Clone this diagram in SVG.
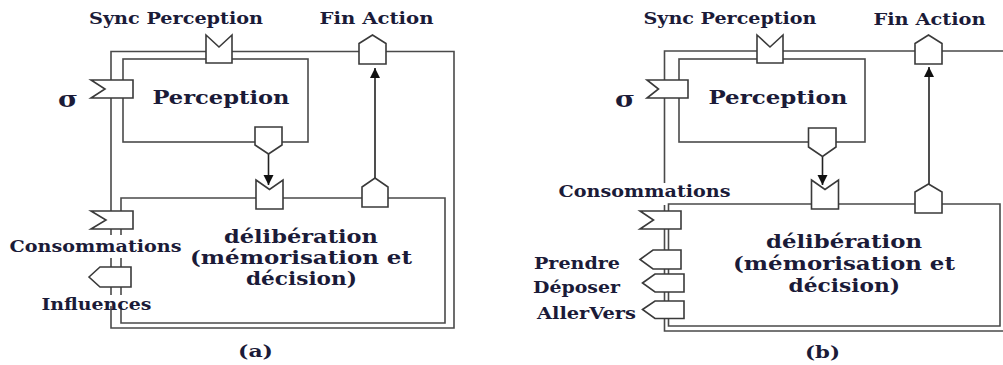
<svg xmlns="http://www.w3.org/2000/svg" width="1003" height="365" viewBox="0 0 1003 365">
<style>
.ln{fill:none;stroke:#4a4a4a;stroke-width:1.6}
.pt{fill:#fff;stroke:#3a3a3a;stroke-width:1.6;stroke-linejoin:miter}
.ar{fill:none;stroke:#222;stroke-width:1.6}
text{font-family:"DejaVu Serif","Liberation Serif",serif;font-weight:bold;fill:#1b1b38}
.lb{font-size:16px}
.big{font-size:19px}
.sg{font-size:22px}
.end{text-anchor:end}
</style>
<defs>
<marker id="ah" viewBox="0 0 10 16" refX="10" refY="8" markerWidth="10" markerHeight="16" markerUnits="userSpaceOnUse" orient="auto">
<path d="M0,3 L10,8 L0,13 Z" fill="#111"/>
</marker>
</defs>

<!-- ================= Panel (a) ================= -->
<g id="connectors-a">
<path class="ln" d="M111,235 V51.5 H454 V328 H111 V306"/>
<path class="ln" d="M111,258 V295"/>
<path class="ln" d="M121,235 V198 H445 V323 H121 V306"/>
<path class="ln" d="M121,258 V295"/>
<path class="ar" d="M268.5,154 V185" marker-end="url(#ah)"/>
<path class="ar" d="M375,178 V68" marker-end="url(#ah)"/>
</g>
<g id="perception-a">
<rect class="ln" x="123" y="59" width="185" height="83"/>
<text class="big" x="152.5" y="104" textLength="137" lengthAdjust="spacingAndGlyphs">Perception</text>
</g>
<g id="deliberation-a">
<text class="big" x="224" y="242.5" textLength="154" lengthAdjust="spacingAndGlyphs">délibération</text>
<text class="big" x="190" y="264" textLength="222" lengthAdjust="spacingAndGlyphs">(mémorisation et</text>
<text class="big" x="246" y="285" textLength="111" lengthAdjust="spacingAndGlyphs">décision)</text>
</g>
<g id="port-sync-a">
<polygon class="pt" points="206,35 219,47 232,35 232,63 206,63"/>
<text class="lb" x="89" y="24" textLength="174" lengthAdjust="spacingAndGlyphs">Sync Perception</text>
</g>
<g id="port-fin-a">
<polygon class="pt" points="359,43.5 372.5,35 386,43.5 386,64 359,64"/>
<text class="lb" x="319.5" y="24" textLength="114" lengthAdjust="spacingAndGlyphs">Fin Action</text>
</g>
<g id="port-sigma-a">
<polygon class="pt" points="91,80 133,80 133,98 91,98 105,89"/>
<text class="sg" x="58" y="107" textLength="20" lengthAdjust="spacingAndGlyphs">σ</text>
</g>
<g id="port-percout-a">
<polygon class="pt" points="255,127 282,127 282,145 268.5,154 255,145"/>
</g>
<g id="port-delibin-a">
<polygon class="pt" points="256,180 269.5,189.5 283,180 283,209 256,209"/>
</g>
<g id="port-delibup-a">
<polygon class="pt" points="362,187 375,178 388,187 388,207 362,207"/>
</g>
<g id="port-conso-a">
<polygon class="pt" points="91,211 133,211 133,229 91,229 106,220"/>
<text class="lb" x="9.5" y="252" textLength="172" lengthAdjust="spacingAndGlyphs">Consommations</text>
</g>
<g id="port-infl-a">
<polygon class="pt" points="89,277 100,267 131,267 131,287 100,287"/>
<text class="lb" x="41.5" y="309.5" textLength="110" lengthAdjust="spacingAndGlyphs">Influences</text>
</g>
<text class="lb" x="238" y="357" textLength="35" lengthAdjust="spacingAndGlyphs">(a)</text>

<!-- ================= Panel (b) ================= -->
<g id="connectors-b">
<path class="ln" d="M664.5,183 V51 H1004"/>
<path class="ln" d="M664.5,205 V331 H1004"/>
<path class="ln" d="M668.5,326 V204 H1000 V326 Z"/>
<path class="ar" d="M822.5,156.5 V185" marker-end="url(#ah)"/>
<path class="ar" d="M929,184 V67" marker-end="url(#ah)"/>
</g>
<g id="perception-b">
<rect class="ln" x="679" y="59" width="186" height="83"/>
<text class="big" x="708.5" y="104" textLength="139" lengthAdjust="spacingAndGlyphs">Perception</text>
</g>
<g id="deliberation-b">
<text class="big" x="766" y="247.5" textLength="156" lengthAdjust="spacingAndGlyphs">délibération</text>
<text class="big" x="733" y="269.5" textLength="222" lengthAdjust="spacingAndGlyphs">(mémorisation et</text>
<text class="big" x="788.5" y="291.5" textLength="111.5" lengthAdjust="spacingAndGlyphs">décision)</text>
</g>
<g id="port-sync-b">
<polygon class="pt" points="757,35 770,47 783,35 783,63 757,63"/>
<text class="lb" x="643.5" y="24" textLength="173" lengthAdjust="spacingAndGlyphs">Sync Perception</text>
</g>
<g id="port-fin-b">
<polygon class="pt" points="915,43.5 928.5,35 942,43.5 942,64 915,64"/>
<text class="lb" x="873.5" y="24.5" textLength="112" lengthAdjust="spacingAndGlyphs">Fin Action</text>
</g>
<g id="port-sigma-b">
<polygon class="pt" points="647,80 688,80 688,98 647,98 658.5,89"/>
<text class="sg" x="615" y="107" textLength="20" lengthAdjust="spacingAndGlyphs">σ</text>
</g>
<g id="port-percout-b">
<polygon class="pt" points="808.5,128 836,128 836,147 822.5,156.5 808.5,147"/>
</g>
<g id="port-delibin-b">
<polygon class="pt" points="811.5,180 825,189.5 838.5,180 838.5,209 811.5,209"/>
</g>
<g id="port-delibup-b">
<polygon class="pt" points="915,192 928.5,184 942,192 942,213 915,213"/>
</g>
<g id="port-conso-b">
<polygon class="pt" points="640,211 681,211 681,229 640,229 653.5,220"/>
<text class="lb" x="558.5" y="197" textLength="172" lengthAdjust="spacingAndGlyphs">Consommations</text>
</g>
<g id="port-prendre-b">
<polygon class="pt" points="640,259.5 653,250 681,250 681,269 653,269"/>
<text class="lb end" x="620" y="268.5" textLength="86" lengthAdjust="spacingAndGlyphs">Prendre</text>
</g>
<g id="port-deposer-b">
<polygon class="pt" points="642.5,283 655,274 684,274 684,292 655,292"/>
<text class="lb end" x="620" y="292.5" textLength="87" lengthAdjust="spacingAndGlyphs">Déposer</text>
</g>
<g id="port-allervers-b">
<polygon class="pt" points="642.5,309.5 655,301 684,301 684,318.5 655,318.5"/>
<text class="lb end" x="636" y="318.5" textLength="99" lengthAdjust="spacingAndGlyphs">AllerVers</text>
</g>
<text class="lb" x="805" y="358" textLength="35" lengthAdjust="spacingAndGlyphs">(b)</text>
</svg>
